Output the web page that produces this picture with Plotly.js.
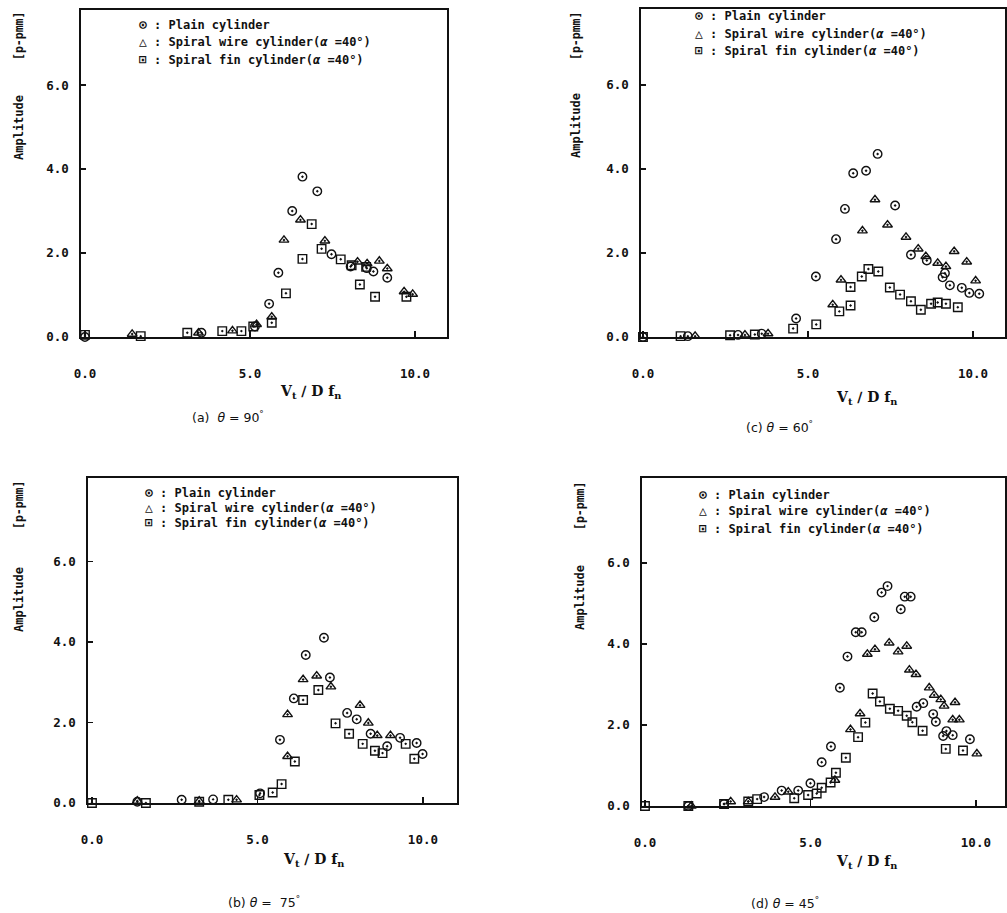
<!DOCTYPE html>
<html>
<head>
<meta charset="utf-8">
<script src="https://cdn.plot.ly/plotly-3.0.1.min.js"></script>
<style>
  html, body { margin: 0; padding: 0; background: #fff; }
  #chart { width: 1007px; height: 913px; }
</style>
</head>
<body>
<div id="chart"></div>
<script>
// Cross-flow amplitude against reduced velocity Vt/Dfn for three cylinder
// types, one panel per inclination angle θ.

const seriesNames = [
  ': Plain cylinder',
  ': Spiral wire cylinder(<i>α</i> =40°)',
  ': Spiral fin cylinder(<i>α</i> =40°)'
];
const legendGlyphs = ['⊙', '△', '⊡'];
const markerSymbols = ['circle-open-dot', 'triangle-up-open-dot', 'square-open-dot'];
const panelCaptions = [
  '(a)  <i>θ</i> = 90<sup>°</sup>',
  '(c) <i>θ</i> = 60<sup>°</sup>',
  '(b) <i>θ</i> =  75<sup>°</sup>',
  '(d) <i>θ</i> = 45<sup>°</sup>'
];
const yTickVals = [0, 2, 4, 6];
const yTickText = ['0.0', '2.0', '4.0', '6.0'];
const xTickVals = [0, 5, 10];
const xTickText = ['0.0', '5.0', '10.0'];

// (a) θ = 90°
const a_plain_x = [0, 3.53, 5.15, 5.58, 5.86, 6.28, 6.59, 7.04, 7.47, 8.05, 8.54, 8.74, 9.16];
const a_plain_y = [0, 0.10, 0.25, 0.79, 1.53, 3.00, 3.82, 3.47, 1.97, 1.68, 1.64, 1.56, 1.41];
const a_wire_x  = [1.43, 3.44, 4.47, 5.20, 5.66, 6.03, 6.53, 7.27, 8.26, 8.55, 8.92, 9.16, 9.67, 9.93];
const a_wire_y  = [0.07, 0.10, 0.15, 0.30, 0.48, 2.31, 2.79, 2.29, 1.79, 1.75, 1.81, 1.63, 1.08, 1.02];
const a_fin_x   = [0, 1.69, 3.10, 4.16, 4.74, 5.10, 5.66, 6.09, 6.59, 6.87, 7.17, 7.75, 8.08, 8.33, 8.52, 8.79, 9.74];
const a_fin_y   = [0.05, 0.02, 0.10, 0.14, 0.14, 0.25, 0.34, 1.04, 1.86, 2.69, 2.10, 1.85, 1.71, 1.25, 1.67, 0.96, 0.96];

// (c) θ = 60°
const c_plain_x = [0, 1.36, 2.88, 3.60, 4.64, 5.24, 5.85, 6.12, 6.37, 6.76, 7.11, 7.64, 8.12, 8.60, 9.08, 9.15, 9.30, 9.66, 9.89, 10.19];
const c_plain_y = [0, 0.02, 0.05, 0.08, 0.44, 1.44, 2.33, 3.05, 3.90, 3.96, 4.36, 3.13, 1.96, 1.82, 1.42, 1.52, 1.23, 1.17, 1.05, 1.03];
const c_wire_x  = [1.58, 3.09, 3.79, 5.75, 6.00, 6.65, 7.03, 7.41, 7.97, 8.34, 8.57, 8.93, 9.18, 9.43, 9.81, 10.08];
const c_wire_y  = [0.02, 0.05, 0.08, 0.77, 1.36, 2.53, 3.27, 2.67, 2.38, 2.10, 1.92, 1.76, 1.68, 2.04, 1.79, 1.34];
const c_fin_x   = [0, 1.14, 2.64, 3.39, 4.55, 5.25, 5.95, 6.29, 6.29, 6.63, 6.83, 7.13, 7.48, 7.79, 8.12, 8.42, 8.73, 8.93, 9.18, 9.54];
const c_fin_y   = [0, 0.02, 0.04, 0.06, 0.20, 0.30, 0.61, 0.75, 1.19, 1.44, 1.62, 1.56, 1.18, 1.01, 0.85, 0.65, 0.79, 0.82, 0.79, 0.71];

// (b) θ = 75°
const b_plain_x = [1.37, 2.71, 3.66, 5.08, 5.68, 6.10, 6.46, 7.01, 7.19, 7.71, 8.00, 8.42, 8.92, 9.31, 9.81, 9.99];
const b_plain_y = [0.03, 0.08, 0.09, 0.24, 1.57, 2.60, 3.68, 4.11, 3.12, 2.24, 2.08, 1.72, 1.41, 1.62, 1.49, 1.22];
const b_wire_x  = [1.37, 3.24, 4.37, 5.91, 5.91, 6.38, 6.79, 7.22, 8.10, 8.35, 8.62, 9.02];
const b_wire_y  = [0.05, 0.05, 0.08, 1.16, 2.20, 3.07, 3.16, 2.89, 2.43, 1.99, 1.68, 1.68];
const b_fin_x   = [0, 1.63, 3.24, 4.12, 5.06, 5.46, 5.73, 6.13, 6.38, 6.84, 7.36, 7.77, 8.18, 8.55, 8.78, 9.48, 9.74];
const b_fin_y   = [0, 0, 0.03, 0.08, 0.20, 0.26, 0.47, 1.03, 2.56, 2.81, 1.98, 1.72, 1.47, 1.30, 1.24, 1.47, 1.10];

// (d) θ = 45°
const d_plain_x = [1.31, 2.39, 3.60, 4.13, 4.63, 5.00, 5.34, 5.62, 5.89, 6.12, 6.37, 6.55, 6.93, 7.15, 7.33, 7.73, 7.85, 8.03, 8.21, 8.41, 8.71, 8.79, 9.01, 9.11, 9.30, 9.82];
const d_plain_y = [0, 0.05, 0.22, 0.38, 0.38, 0.56, 1.08, 1.47, 2.92, 3.69, 4.29, 4.29, 4.66, 5.27, 5.43, 4.86, 5.17, 5.17, 2.45, 2.54, 2.27, 2.08, 1.73, 1.85, 1.75, 1.65];
const d_wire_x  = [1.40, 2.59, 3.12, 3.93, 4.33, 5.74, 6.21, 6.50, 6.72, 6.95, 7.38, 7.65, 7.91, 7.99, 8.19, 8.59, 8.74, 8.94, 9.04, 9.30, 9.37, 9.50, 10.03];
const d_wire_y  = [0, 0.11, 0.11, 0.22, 0.35, 0.64, 1.89, 2.28, 3.75, 3.87, 4.03, 3.81, 3.95, 3.36, 3.25, 2.92, 2.74, 2.63, 2.47, 2.13, 2.56, 2.13, 1.29];
const d_fin_x   = [0, 1.31, 2.39, 3.12, 3.39, 4.51, 4.93, 5.19, 5.34, 5.61, 5.77, 6.07, 6.44, 6.66, 6.88, 7.10, 7.40, 7.65, 7.91, 8.08, 8.39, 9.09, 9.61];
const d_fin_y   = [0, 0, 0.05, 0.11, 0.17, 0.19, 0.27, 0.31, 0.45, 0.58, 0.82, 1.19, 1.70, 2.06, 2.78, 2.58, 2.40, 2.35, 2.23, 2.07, 1.86, 1.41, 1.37];

const panelSeries = [
  [[a_plain_x, a_plain_y], [a_wire_x, a_wire_y], [a_fin_x, a_fin_y]],
  [[c_plain_x, c_plain_y], [c_wire_x, c_wire_y], [c_fin_x, c_fin_y]],
  [[b_plain_x, b_plain_y], [b_wire_x, b_wire_y], [b_fin_x, b_fin_y]],
  [[d_plain_x, d_plain_y], [d_wire_x, d_wire_y], [d_fin_x, d_fin_y]]
];

// Page geometry (pixels) for each panel: plot box, axis ranges, text anchors
const W = 1007, H = 913;
const geom = [
  { l: 81,  r: 447,  t: 10,  b: 337, xr: [-0.12, 10.97], yr: [0, 7.79],
    legX: 137, legY: [25, 42, 59], yT: 19, ampY: 128, unitY: 36,
    xtX: 310, xtY: 392, capX: 228, capY: 417 },
  { l: 641, r: 1005, t: 9,   b: 337, xr: [-0.06, 10.97], yr: [0, 7.81],
    legX: 693, legY: [16, 33, 50], yT: 576, ampY: 126, unitY: 36,
    xtX: 866, xtY: 398, capX: 779, capY: 427 },
  { l: 88,  r: 457,  t: 478, b: 803, xr: [-0.12, 11.03], yr: [0, 8.08],
    legX: 143, legY: [492, 507, 522], yT: 19, ampY: 600, unitY: 505,
    xtX: 313, xtY: 860, capX: 264, capY: 902 },
  { l: 642, r: 1005, t: 478, b: 806, xr: [-0.09, 10.88], yr: [0, 8.1],
    legX: 697, legY: [494, 511, 528], yT: 580, ampY: 598, unitY: 506,
    xtX: 866, xtY: 862, capX: 785, capY: 903 }
];

const px = v => v / W;
const py = v => 1 - v / H;
const monoBold = { family: 'DejaVu Sans Mono', size: 12, color: '#111', weight: 'bold' };

const traces = [];
const layout = {
  width: W, height: H,
  margin: { l: 0, r: 0, t: 0, b: 0 },
  paper_bgcolor: '#fff', plot_bgcolor: '#fff',
  showlegend: false,
  annotations: []
};

geom.forEach((g, i) => {
  const n = i + 1;
  const xa = n === 1 ? 'xaxis' : 'xaxis' + n;
  const ya = n === 1 ? 'yaxis' : 'yaxis' + n;
  const xref = n === 1 ? 'x' : 'x' + n;
  const yref = n === 1 ? 'y' : 'y' + n;

  layout[xa] = {
    domain: [px(g.l), px(g.r)], range: g.xr, anchor: yref,
    showgrid: false, zeroline: false,
    showline: true, mirror: true, linecolor: '#111', linewidth: 1.6,
    ticks: 'inside', ticklen: 6, tickwidth: 1.3, tickcolor: '#111',
    tickvals: xTickVals, ticktext: xTickText,
    ticklabelstandoff: 24,
    tickfont: { family: 'DejaVu Sans Mono', size: 12.5, color: '#111', weight: 'bold' }
  };
  layout[ya] = {
    domain: [py(g.b), py(g.t)], range: g.yr, anchor: xref,
    showgrid: false, zeroline: false,
    showline: true, mirror: true, linecolor: '#111', linewidth: 1.6,
    ticks: 'inside', ticklen: 5, tickwidth: 1.3, tickcolor: '#111',
    tickvals: yTickVals, ticktext: yTickText,
    ticklabelstandoff: 8,
    tickfont: { family: 'DejaVu Sans Mono', size: 12.5, color: '#111', weight: 'bold' }
  };

  panelSeries[i].forEach((s, k) => {
    traces.push({
      type: 'scatter', mode: 'markers',
      x: s[0], y: s[1], xaxis: xref, yaxis: yref,
      name: seriesNames[k], cliponaxis: false,
      marker: { symbol: markerSymbols[k], size: 8.5, color: '#111', line: { width: 1.4, color: '#111' } }
    });
  });

  // key lines
  seriesNames.forEach((name, k) => {
    layout.annotations.push({
      xref: 'paper', yref: 'paper', x: px(g.legX), y: py(g.legY[k]),
      xanchor: 'left', yanchor: 'middle', showarrow: false,
      text: '<span style="font-size:13px">' + legendGlyphs[k] + '</span> ' + name,
      font: monoBold
    });
  });

  // y-axis title, two rotated pieces
  layout.annotations.push({
    xref: 'paper', yref: 'paper', x: px(g.yT), y: py(g.ampY),
    xanchor: 'center', yanchor: 'middle', showarrow: false, textangle: -90,
    text: 'Amplitude', font: { family: 'DejaVu Sans Mono', size: 12, color: '#111', weight: 'bold' }
  });
  layout.annotations.push({
    xref: 'paper', yref: 'paper', x: px(g.yT), y: py(g.unitY),
    xanchor: 'center', yanchor: 'middle', showarrow: false, textangle: -90,
    text: '[p-pmm]', font: { family: 'DejaVu Sans Mono', size: 11.5, color: '#111', weight: 'bold' }
  });

  // x-axis title
  layout.annotations.push({
    xref: 'paper', yref: 'paper', x: px(g.xtX), y: py(g.xtY),
    xanchor: 'center', yanchor: 'middle', showarrow: false,
    text: 'V<sub>t</sub> ∕ D f<sub>n</sub>',
    font: { family: 'DejaVu Serif', size: 14, color: '#111', weight: 'bold' }
  });

  // panel caption
  layout.annotations.push({
    xref: 'paper', yref: 'paper', x: px(g.capX), y: py(g.capY),
    xanchor: 'center', yanchor: 'middle', showarrow: false,
    text: panelCaptions[i],
    font: { family: 'DejaVu Sans', size: 12.5, color: '#111' }
  });
});

Plotly.newPlot('chart', traces, layout, { staticPlot: true, displayModeBar: false });
</script>
</body>
</html>
